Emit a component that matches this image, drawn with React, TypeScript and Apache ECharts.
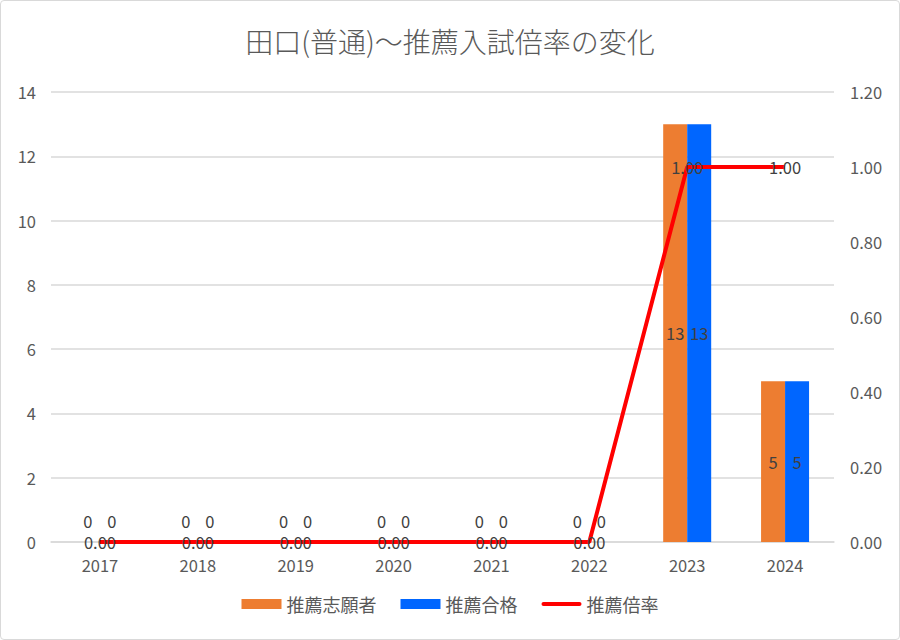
import React, { useEffect, useRef } from "react";
import * as echarts from "echarts";

const categories = ["2017", "2018", "2019", "2020", "2021", "2022", "2023", "2024"];
const applicants = [0, 0, 0, 0, 0, 0, 13, 5];
const passed = [0, 0, 0, 0, 0, 0, 13, 5];
const ratio = [0, 0, 0, 0, 0, 0, 1, 1];
const seriesNames = ["推薦志願者", "推薦合格", "推薦倍率"];
const titleText = "田口(普通)～推薦入試倍率の変化";

const FONT = '"Noto Sans CJK JP", "Noto Sans", sans-serif';

export default function App() {
  const ref = useRef<HTMLDivElement>(null);
  useEffect(() => {
    if (!ref.current) return;
    const chart = echarts.init(ref.current, undefined, { renderer: "svg" });
    const barData = (arr: number[]) =>
      arr.map((v) => ({
        value: v,
        label: v === 0 ? { position: "top", distance: 13 } : undefined,
      }));
    const barLabel = {
      show: true,
      position: "inside",
      color: "#404040",
      fontSize: 16.5,
      lineHeight: 16,
      fontFamily: FONT,
    };
    chart.setOption({
      animation: false,
      textStyle: { fontFamily: FONT },
      title: {
        text: titleText,
        left: "center",
        top: 21,
        textStyle: { fontSize: 28, fontWeight: 300, color: "#595959", fontFamily: FONT },
      },
      legend: {
        bottom: 21,
        left: "center",
        itemWidth: 40,
        itemHeight: 10,
        itemGap: 24,
        textStyle: { fontSize: 18, color: "#595959", fontFamily: FONT },
        data: [
          { name: seriesNames[0], icon: "rect" },
          { name: seriesNames[1], icon: "rect" },
          { name: seriesNames[2], icon: "path://M2,3 L38,3 A2,2 0 0 1 38,7 L2,7 A2,2 0 0 1 2,3 Z" },
        ],
      },
      grid: { left: 50, right: 65, top: 91, bottom: 97 },
      xAxis: {
        type: "category",
        data: categories,
        axisLine: { lineStyle: { color: "#d9d9d9", width: 1.5 } },
        axisTick: { show: false },
        axisLabel: { color: "#595959", fontSize: 16.5, margin: 15, fontFamily: FONT },
      },
      yAxis: [
        {
          type: "value",
          min: 0,
          max: 14,
          interval: 2,
          axisLine: { show: false },
          axisTick: { show: false },
          axisLabel: { color: "#595959", fontSize: 16.5, margin: 15, fontFamily: FONT },
          splitLine: { lineStyle: { color: "#d9d9d9", width: 1.5 } },
        },
        {
          type: "value",
          min: 0,
          max: 1.2,
          interval: 0.2,
          axisLine: { show: false },
          axisTick: { show: false },
          splitLine: { show: false },
          axisLabel: {
            color: "#595959",
            fontSize: 16.5,
            margin: 16,
            fontFamily: FONT,
            formatter: (v: number) => v.toFixed(2),
          },
        },
      ],
      series: [
        {
          name: seriesNames[0],
          type: "bar",
          data: barData(applicants),
          itemStyle: { color: "#ED7D31" },
          barWidth: 24,
          barGap: "0%",
          label: barLabel,
        },
        {
          name: seriesNames[1],
          type: "bar",
          data: barData(passed),
          itemStyle: { color: "#0066FF" },
          barWidth: 24,
          barGap: "0%",
          label: barLabel,
        },
        {
          name: seriesNames[2],
          type: "line",
          yAxisIndex: 1,
          data: ratio,
          symbol: "circle",
          symbolSize: 0.01,
          showSymbol: true,
          lineStyle: { color: "#FF0000", width: 4 },
          itemStyle: { color: "#FF0000" },
          label: {
            show: true,
            position: "inside",
            color: "#404040",
            fontSize: 16.5,
            lineHeight: 16,
            fontFamily: FONT,
            formatter: (p: any) => Number(p.value).toFixed(2),
          },
        },
      ],
    });
    return () => chart.dispose();
  }, []);
  return (
    <div
      style={{
        position: "fixed",
        left: 0,
        top: 0,
        width: 900,
        height: 640,
        boxSizing: "border-box",
        border: "1px solid #d9d9d9",
        borderRadius: 4,
        background: "#fff",
      }}
    >
      <div ref={ref} style={{ width: 898, height: 638 }} />
    </div>
  );
}
